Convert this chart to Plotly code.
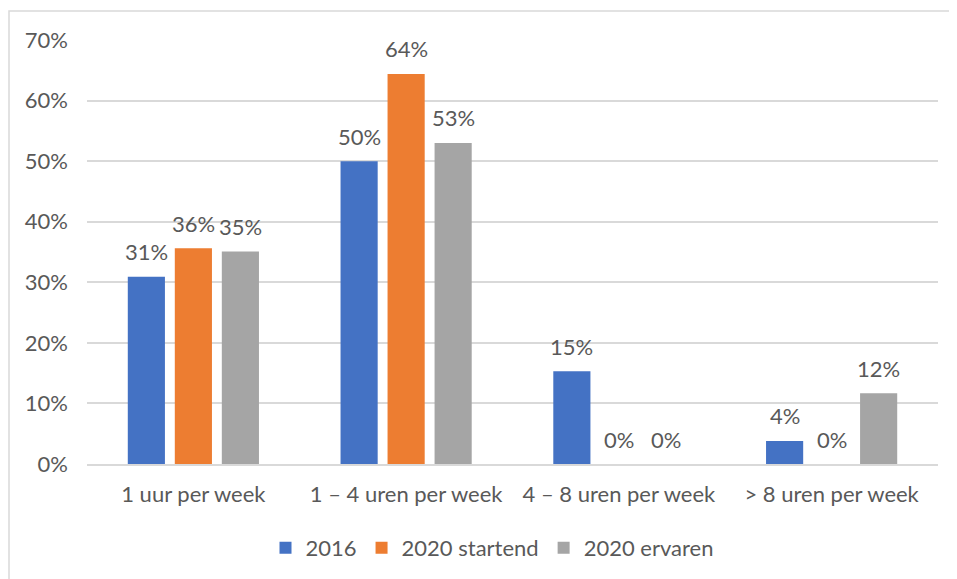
import plotly.graph_objects as go

categories = ["1 uur per week", "1 \u2013 4 uren per week", "4 \u2013 8 uren per week", "> 8 uren per week"]
series_names = ["2016", "2020 startend", "2020 ervaren"]
values_2016 = [0.309, 0.500, 0.153, 0.038]
values_2020_startend = [0.356, 0.644, 0.0, 0.0]
values_2020_ervaren = [0.351, 0.530, 0.0, 0.117]
colors = ["#4472C4", "#ED7D31", "#A5A5A5"]

# page body has an 8px margin; figure pixel coords below are relative to the figure
W, H = 957, 579
L, R, T, B = 79, 930, 32, 456  # plot area in figure pixels
FONT = "Lato"
FS = 22
TXT = "#595959"
BARGAP = 0.337

fig = go.Figure()
all_series = [values_2016, values_2020_startend, values_2020_ervaren]
for name, vals, col in zip(series_names, all_series, colors):
    fig.add_trace(go.Bar(
        x=categories, y=vals, name=name, marker=dict(color=col, line=dict(width=0)),
        hoverinfo="x+y+name",
    ))

# data labels above the bars
n = len(series_names)
slot = (1 - BARGAP) / n
for i, vals in enumerate(all_series):
    for j, v in enumerate(vals):
        fig.add_annotation(x=j + (i - (n - 1) / 2) * slot, y=v, xref="x", yref="y",
                           text=f"{round(v * 100)}%", showarrow=False,
                           yanchor="middle", yshift=25,
                           font=dict(family=FONT, size=FS, color=TXT))

pw, ph = R - L, B - T
fig.add_shape(type="rect", xref="paper", yref="paper",
              x0=(1 - L) / pw, x1=(W + 20 - L) / pw,
              y0=(B - (H + 20)) / ph, y1=(B - 3) / ph,
              line=dict(color="#d9d9d9", width=1.5), fillcolor="rgba(0,0,0,0)", layer="below")

fig.update_layout(
    width=W, height=H,
    margin=dict(l=L, r=W - R, t=T, b=H - B, pad=0),
    paper_bgcolor="white", plot_bgcolor="white",
    barmode="group", bargap=BARGAP, bargroupgap=0.21,
    font=dict(family=FONT, size=FS, color=TXT),
    showlegend=True,
    legend=dict(orientation="h", x=(484 - L) / pw, xanchor="center", y=(B - 540) / ph, yanchor="middle",
                font=dict(family=FONT, size=FS, color=TXT), itemwidth=30, traceorder="normal"),
    xaxis=dict(showgrid=False, showline=True, linecolor="#d9d9d9", linewidth=1.5, ticks="",
               ticklabelstandoff=10, tickfont=dict(family=FONT, size=FS, color=TXT)),
    yaxis=dict(range=[0, 0.7], dtick=0.1, tickformat=".0%", showgrid=True, gridcolor="#d9d9d9",
               gridwidth=1.5, zeroline=False, showline=False, ticks="", ticklabelstandoff=18,
               tickfont=dict(family=FONT, size=FS, color=TXT)),
)

fig.write_html("out.html")
